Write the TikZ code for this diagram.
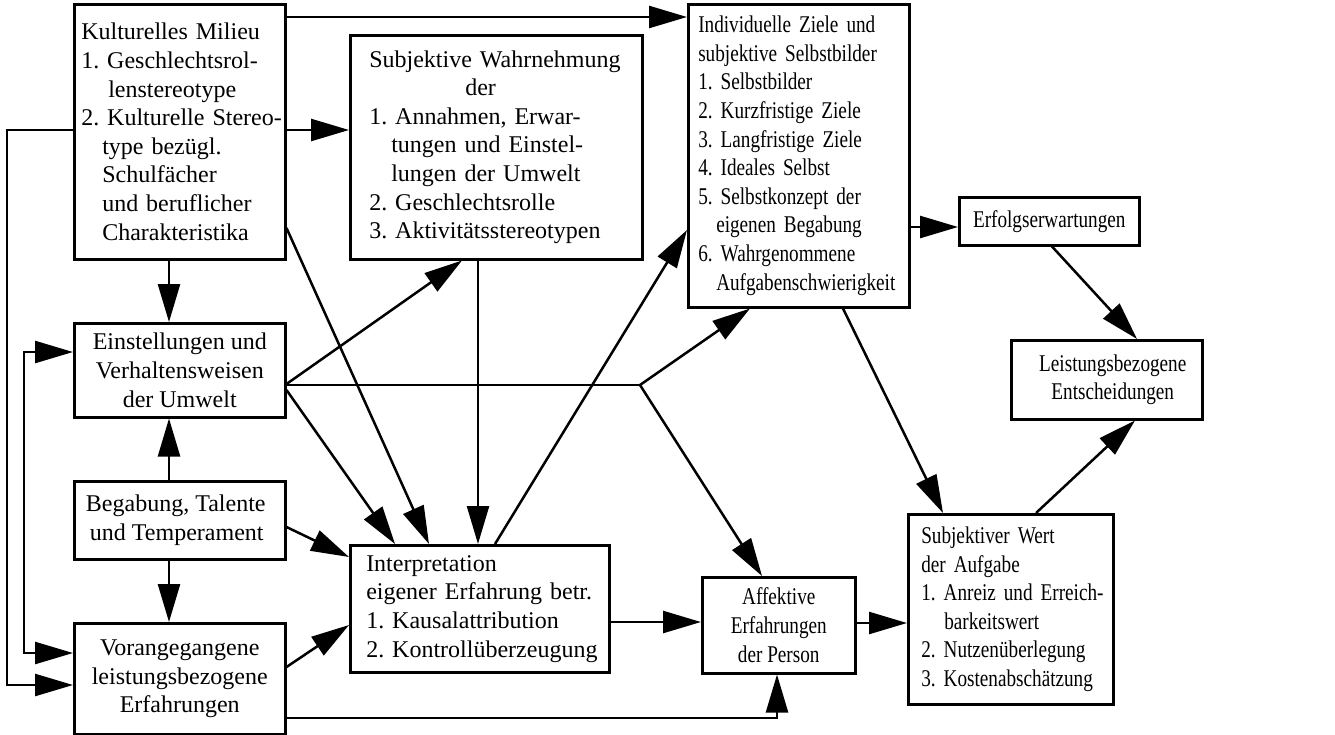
\documentclass[tikz,border=0pt]{standalone}
\usepackage{fontspec}
\setmainfont{Liberation Serif}
\newfontfamily\cond[FakeStretch=0.8]{Liberation Serif}
\usetikzlibrary{arrows.meta,calc}
\frenchspacing
\begin{document}
\begin{tikzpicture}[x=1pt,y=-1pt,
  box/.style={draw, line width=2.5pt, anchor=north west, inner ysep=0pt, inner xsep=0pt,
    font=\fontsize{24}{28.6}\selectfont\frenchspacing},
  cbox/.style={box, align=center, font=\cond\fontsize{24}{28.6}\selectfont\frenchspacing},
  nbox/.style={box, align=center},
  lbox/.style={box, align=left, text width=#1},
  clbox/.style={lbox=#1, font=\cond\fontsize{24}{28.6}\selectfont\frenchspacing},
  arr/.style={line width=2.5pt, -{Triangle[length=38pt,width=22pt]}},
  darr/.style={line width=2.5pt, {Triangle[length=38pt,width=22pt]}-{Triangle[length=38pt,width=22pt]}},
  ln/.style={line width=2.5pt},
]
\useasboundingbox (0,0) rectangle (1335,734);

% boxes
\node[lbox=211pt, minimum width=211pt, minimum height=255pt, execute at begin node={\leftskip=7pt}] (A) at (73,3)
 {Kulturelles Milieu\\1. Geschlechtsrol-\\\hspace*{27pt}lenstereotype\\2. Kulturelle Stereo-\\\hspace*{21pt}type bezügl.\\\hspace*{21pt}Schulfächer\\\hspace*{21pt}und beruflicher\\\hspace*{21pt}Charakteristika};
\node[lbox=292pt, minimum width=292pt, minimum height=224pt, execute at begin node={\leftskip=19pt}] (B) at (349,34)
 {Subjektive Wahrnehmung\\\hspace*{96pt}der\\1. Annahmen, Erwar-\\\hspace*{22pt}tungen und Einstel-\\\hspace*{22pt}lungen der Umwelt\\2. Geschlechtsrolle\\3. Aktivitätsstereotypen};
\node[clbox=221pt, minimum width=221pt, minimum height=303pt, execute at begin node={\leftskip=10pt}] (C) at (687,3)
 {Individuelle Ziele und\\subjektive Selbstbilder\\1. Selbstbilder\\2. Kurzfristige Ziele\\3. Langfristige Ziele\\4. Ideales Selbst\\5. Selbstkonzept der\\\hspace*{18pt}eigenen Begabung\\6. Wahrgenommene\\\hspace*{18pt}Aufgabenschwierigkeit};
\node[cbox, minimum width=180pt, minimum height=48pt] (D) at (958,196) {Erfolgserwartungen};
\node[cbox, minimum width=191pt, minimum height=79pt] (E) at (1010,339) {\hspace*{12pt}Leistungsbezogene\\\hspace*{12pt}Entscheidungen};
\node[clbox=205pt, minimum width=205pt, minimum height=190pt, execute at begin node={\leftskip=13pt}] (F) at (907,513)
 {Subjektiver Wert\\der Aufgabe\\1. Anreiz und Erreich-\\\hspace*{23pt}barkeitswert\\2. Nutzenüberlegung\\3. Kostenabschätzung};
\node[cbox, minimum width=153pt, minimum height=96pt] (G) at (701,576) {Affektive\\Erfahrungen\\der Person};
\node[lbox=259pt, minimum width=259pt, minimum height=127pt, execute at begin node={\leftskip=16pt}] (H) at (349,544)
 {Interpretation\\eigener Erfahrung betr.\\1. Kausalattribution\\2. Kontrollüberzeugung};
\node[nbox, minimum width=211pt, minimum height=94pt] (I) at (73,322) {Einstellungen und\\Verhaltensweisen\\der Umwelt};
\node[nbox, minimum width=211pt, minimum height=78pt] (J) at (73,480) {Begabung, Talente\hspace*{8pt}\\und Temperament\hspace*{6pt}};
\node[nbox, minimum width=211pt, minimum height=111pt] (K) at (73,622) {Vorangegangene\\leistungsbezogene\\Erfahrungen};

\coordinate (split) at (640,385);

% connectors
\draw[arr] (A.east |- 0,17) -- (C.west |- 0,17);
\draw[arr] (A.east |- 0,130) -- (B.west |- 0,130);
\draw[arr] (A.south -| 169,0) -- (I.north -| 169,0);
\draw[arr] (A.east |- 0,228) -- (H.north -| 429,0);
\draw[arr] (A.west |- 0,130) -- (7,130) -- (7,685) -- (K.west |- 0,685);
\draw[darr] (I.west |- 0,352) -- (24,352) -- (24,653) -- (K.west |- 0,653);
\draw[arr] (J.north -| 169,0) -- (I.south -| 169,0);
\draw[arr] (J.south -| 169,0) -- (K.north -| 169,0);
\draw[arr] (J.east |- 0,527) -- (H.west |- 0,557);
\draw[arr] (K.east |- 0,667) -- (H.west |- 0,625);
\draw[arr] (K.east |- 0,718) -| (G.south -| 777,0);
\draw[arr] (I.east |- 0,384) -- (B.south -| 462,0);
\draw[arr] (I.east |- 0,390) -- (H.north -| 395,0);
\draw[ln] (I.east |- 0,385) -- (split);
\draw[arr] (split) -- (C.south -| 750,0);
\draw[arr] (split) -- (G.north -| 762,0);
\draw[arr] (B.south -| 478,0) -- (H.north -| 478,0);
\draw[arr] (H.north -| 495,0) -- (C.west |- 0,230);
\draw[arr] (C.south -| 843,0) -- (F.north -| 943,0);
\draw[arr] (C.east |- 0,227) -- (D.west |- 0,227);
\draw[arr] (D.south -| 1052,0) -- (E.north -| 1137,0);
\draw[arr] (F.north -| 1036,0) -- (E.south -| 1135,0);
\draw[arr] (H.east |- 0,622) -- (G.west |- 0,622);
\draw[arr] (G.east |- 0,623) -- (F.west |- 0,623);
\end{tikzpicture}
\end{document}
